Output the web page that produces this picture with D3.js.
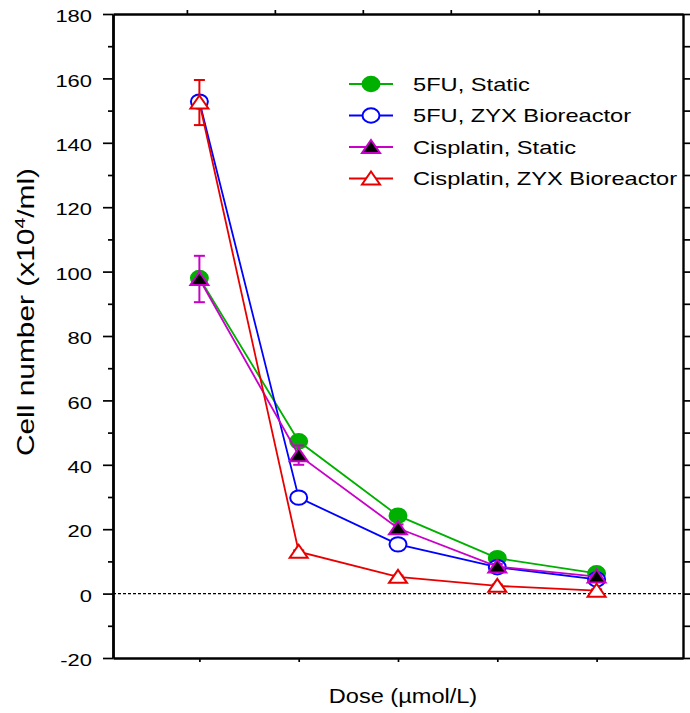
<!DOCTYPE html>
<html>
<head>
<meta charset="utf-8">
<script src="https://cdn.jsdelivr.net/npm/d3@7"></script>
<style>
  html, body { margin: 0; padding: 0; background: #fff; }
  svg { display: block; font-family: Arial, "Liberation Sans", sans-serif; }
</style>
</head>
<body>
<svg id="chart" width="690" height="713"></svg>
<script>
// ---- data ----
const doses = [1, 2, 3, 4, 5];
const fiveFUStatic = [98, 47.3, 24.2, 11, 6.3];
const fiveFUStaticErr = [0, 0, 0, 0, 0];
const fiveFUZYX = [152.8, 29.8, 15.3, 8.2, 4.4];
const fiveFUZYXErr = [0, 0, 0, 0, 0];
const cisStatic = [97.7, 43, 20.3, 8.4, 5.3];
const cisStaticErr = [7.2, 3, 1.2, 0.8, 0.5];
const cisZYX = [152.5, 13, 5.2, 2.4, 0.9];
const cisZYXErr = [7, 0.4, 0.4, 0.4, 0.4];
const seriesNames = ["5FU, Static", "5FU, ZYX Bioreactor", "Cisplatin, Static", "Cisplatin, ZYX Bioreactor"];
const yMajorTicks = [-20, 0, 20, 40, 60, 80, 100, 120, 140, 160, 180];
const yMinorTicks = [-10, 10, 30, 50, 70, 90, 110, 130, 150, 170];
const topTicks = [1, 2, 3, 4, 5];

(function () {
const series = [
  { name: seriesNames[0], values: fiveFUStatic, err: fiveFUStaticErr, color: "#00b000", marker: "circle", fill: "#00b000", mstroke: "#00b000" },
  { name: seriesNames[1], values: fiveFUZYX, err: fiveFUZYXErr, color: "#0000ff", marker: "circle", fill: "#ffffff", mstroke: "#0000ff" },
  { name: seriesNames[2], values: cisStatic, err: cisStaticErr, color: "#c800c8", marker: "triangle", fill: "#000000", mstroke: "#c800c8" },
  { name: seriesNames[3], values: cisZYX, err: cisZYXErr, color: "#e80000", marker: "triangle", fill: "#ffffff", mstroke: "#e80000" }
];

const svg = d3.select("#chart");
const pLeft = 113, pRight = 683, pTop = 14, pBottom = 658;

const x = d3.scaleLinear().domain([0.13, 5.87]).range([pLeft, pRight]);
const xTop = d3.scaleLinear().domain([0.16, 6.64]).range([pLeft, pRight]);
const y = d3.scaleLinear().domain([-20, 180]).range([pBottom, pTop]);

const axisStyle = g => {
  g.selectAll("path.domain").attr("stroke", "#000").attr("stroke-width", 2.4);
  g.selectAll(".tick line").attr("stroke", "#000").attr("stroke-width", 1.7);
};

svg.append("g").attr("transform", `translate(${pLeft},0)`)
  .call(d3.axisLeft(y).tickValues(yMinorTicks).tickSize(5).tickFormat("").tickSizeOuter(0))
  .call(axisStyle);
const yAx = svg.append("g").attr("transform", `translate(${pLeft},0)`)
  .call(d3.axisLeft(y).tickValues(yMajorTicks).tickSize(10).tickPadding(10).tickSizeOuter(0)
    .tickFormat(d => String(d)))
  .call(axisStyle);
yAx.selectAll("text")
  .attr("x", null)
  .attr("transform", "translate(-21,2.5) scale(1.33,1)")
  .attr("font-size", 16.5).attr("fill", "#000")
  .attr("font-family", "Arial, 'Liberation Sans', sans-serif");

svg.append("g").attr("transform", `translate(${pRight},0)`)
  .call(d3.axisRight(y).tickValues(yMajorTicks.concat(yMinorTicks)).tickSize(8).tickFormat("").tickSizeOuter(0))
  .call(axisStyle);

svg.append("g").attr("transform", `translate(0,${pBottom})`)
  .call(d3.axisBottom(x).tickValues(doses).tickSize(4).tickFormat("").tickSizeOuter(0))
  .call(axisStyle);

svg.append("g").attr("transform", `translate(0,${pTop})`)
  .call(d3.axisTop(xTop).tickValues(topTicks).tickSize(4).tickFormat("").tickSizeOuter(0))
  .call(axisStyle);

svg.append("line")
  .attr("x1", pLeft).attr("x2", pRight)
  .attr("y1", y(0)).attr("y2", y(0))
  .attr("stroke", "#000").attr("stroke-width", 1.1).attr("stroke-dasharray", "3,2");

svg.append("text")
  .attr("transform", `translate(34,${312}) rotate(-90) scale(1.3,1)`)
  .attr("text-anchor", "middle").attr("font-size", 23).attr("fill", "#000")
  .call(t => {
    t.append("tspan").text("Cell number (x10");
    t.append("tspan").attr("font-size", 15).attr("dy", -9).text("4");
    t.append("tspan").attr("dy", 9).text("/ml)");
  });

svg.append("text")
  .attr("transform", "translate(403,703) scale(1.15,1)")
  .attr("text-anchor", "middle").attr("font-size", 20.5).attr("fill", "#000")
  .text("Dose (µmol/L)");

function drawMarker(g, s, cx, cy) {
  if (s.marker === "circle") {
    g.append("ellipse").attr("cx", cx).attr("cy", cy).attr("rx", 8.5).attr("ry", 7.2)
      .attr("fill", s.fill).attr("stroke", s.mstroke).attr("stroke-width", 2);
  } else {
    const w = 9, hTop = 7, hBot = 6;
    g.append("path")
      .attr("d", `M${cx},${cy - hTop} L${cx + w},${cy + hBot} L${cx - w},${cy + hBot} Z`)
      .attr("fill", s.fill).attr("stroke", s.mstroke).attr("stroke-width", 2);
  }
}

const line = d3.line().x((d, i) => x(doses[i])).y(d => y(d));

series.forEach(s => {
  const g = svg.append("g");
  s.values.forEach((v, i) => {
    const e = s.err[i];
    if (e > 0) {
      const cx = x(doses[i]);
      g.append("line").attr("x1", cx).attr("x2", cx).attr("y1", y(v - e)).attr("y2", y(v + e))
        .attr("stroke", s.color).attr("stroke-width", 2);
      [v - e, v + e].forEach(b => {
        g.append("line").attr("x1", cx - 5.5).attr("x2", cx + 5.5).attr("y1", y(b)).attr("y2", y(b))
          .attr("stroke", s.color).attr("stroke-width", 2);
      });
    }
  });
  g.append("path").datum(s.values).attr("d", line)
    .attr("fill", "none").attr("stroke", s.color).attr("stroke-width", 1.8);
  s.values.forEach((v, i) => drawMarker(g, s, x(doses[i]), y(v)));
});

const legX1 = 349, legX2 = 393, legY0 = 84, legDy = 31.5;
series.forEach((s, k) => {
  const ly = legY0 + k * legDy;
  const g = svg.append("g");
  g.append("line").attr("x1", legX1).attr("x2", legX2).attr("y1", ly).attr("y2", ly)
    .attr("stroke", s.color).attr("stroke-width", 1.8);
  drawMarker(g, s, (legX1 + legX2) / 2, ly);
  g.append("text").attr("transform", `translate(413,${ly + 6.7}) scale(1.3,1)`)
    .attr("font-size", 18.2).attr("fill", "#000").text(s.name);
});
})();
</script>
</body>
</html>
